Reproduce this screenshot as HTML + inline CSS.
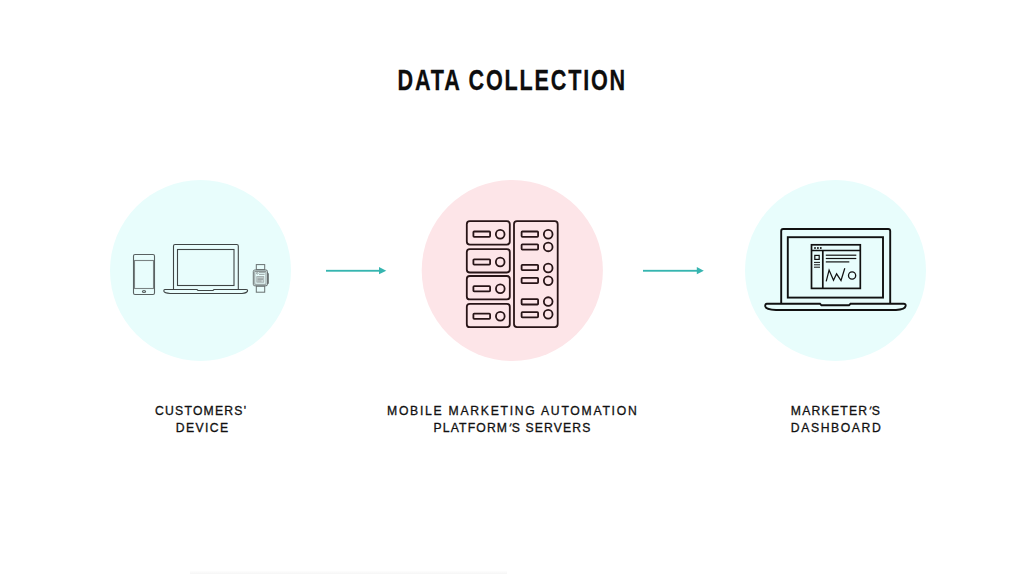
<!DOCTYPE html>
<html>
<head>
<meta charset="utf-8">
<style>
html,body{margin:0;padding:0;background:#fff;width:1024px;height:574px;overflow:hidden;position:relative;}
.t{position:absolute;font-family:"Liberation Sans",sans-serif;color:#111;white-space:nowrap;}
#title{left:0.4px;width:1024px;top:60px;color:#0d0d0d;text-align:center;font-weight:bold;font-size:30px;line-height:40px;}
#title span{display:inline-block;transform:scaleX(0.72);transform-origin:center;letter-spacing:2.5px;-webkit-text-stroke:0.3px #0d0d0d;}
.lbl{font-size:12.2px;line-height:17px;font-weight:normal;-webkit-text-stroke:0.3px #111;}
svg{position:absolute;left:0;top:0;}
</style>
</head>
<body>
<svg width="1024" height="574" viewBox="0 0 1024 574">
  <!-- circles -->
  <circle cx="200.5" cy="270.5" r="90.5" fill="#e8fdfc"/>
  <circle cx="512.3" cy="270.5" r="90.6" fill="#fde5e8"/>
  <circle cx="835.5" cy="270.5" r="90.5" fill="#e8fdfc"/>
  <!-- arrows -->
  <g fill="#36b5b0">
    <rect x="326" y="269.85" width="54" height="1.85"/>
    <polygon points="379,267 386.3,270.7 379,274.3"/>
    <rect x="643" y="269.85" width="55" height="1.85"/>
    <polygon points="696.8,267 703.8,270.7 696.8,274.3"/>
  </g>
  <!-- devices -->
  <g fill="none" stroke="#3f4545" stroke-width="1.1">
    <!-- phone -->
    <rect x="133.5" y="254.5" width="21" height="40" rx="1.5" stroke="#596161"/>
    <rect x="134.5" y="260.5" width="19" height="28" stroke="#7a8383"/>
    <ellipse cx="144" cy="291.5" rx="1.6" ry="1" stroke="#596161"/>
    <!-- laptop lid -->
    <path d="M173.5 289.5 V246 Q173.5 244.5 175 244.5 H236.8 Q238.3 244.5 238.3 246 V289.5"/>
    <rect x="177.5" y="249.5" width="56.5" height="36"/>
    <path d="M165 289.5 H197 L198 290.5 H213 L214 289.5 H246 Q248 289.5 247.5 291 Q247 293 242 293.5 H170 Q164.5 293 164 291.5 Q163.5 289.5 165 289.5 Z"/>
  </g>
  <!-- watch -->
  <g fill="none" stroke="#687171" stroke-width="1">
    <rect x="256.3" y="264.6" width="8.4" height="5"/>
    <rect x="256.3" y="286.2" width="8.4" height="6"/>
    <rect x="253.3" y="270" width="14.2" height="15.8" rx="1.5"/>
    <rect x="254.8" y="271.5" width="11.2" height="12.8" stroke="#8d9696"/>
    <line x1="268.3" y1="273.2" x2="268.3" y2="283.8" stroke-width="1.1"/>
  </g>
  <g fill="none" stroke="#8a9393" stroke-width="0.8">
    <circle cx="257.3" cy="273.2" r="0.9"/>
    <line x1="259" y1="272.6" x2="265.3" y2="272.6"/>
    <line x1="259" y1="274.4" x2="264.6" y2="274.4"/>
    <rect x="256.8" y="276.6" width="7" height="5.6" fill="#cfdcdc" stroke="#9aa4a4"/>
    <line x1="257.5" y1="278.2" x2="263" y2="278.2"/>
    <line x1="257.5" y1="279.6" x2="263" y2="279.6"/>
    <line x1="257.5" y1="281" x2="261.5" y2="281"/>
  </g>
  <!-- servers -->
  <g fill="none" stroke="#281517" stroke-width="1.8">
    <rect x="466.8" y="221.2" width="43" height="23.4" rx="3"/>
    <rect x="466.8" y="249.1" width="43" height="23.4" rx="3"/>
    <rect x="466.8" y="276.0" width="43" height="23.4" rx="3"/>
    <rect x="466.8" y="303.8" width="43" height="23.4" rx="3"/>
    <rect x="473.4" y="231.5" width="16.7" height="5.3" rx="0.8"/>
    <rect x="473.4" y="259.3" width="16.7" height="5.3" rx="0.8"/>
    <rect x="473.4" y="286.1" width="16.7" height="5.3" rx="0.8"/>
    <rect x="473.4" y="313.6" width="16.7" height="5.3" rx="0.8"/>
    <circle cx="500.2" cy="234.3" r="4.35"/>
    <circle cx="500.2" cy="262" r="4.35"/>
    <circle cx="500.3" cy="288.7" r="4.35"/>
    <circle cx="500.3" cy="316.2" r="4.35"/>
    <rect x="514" y="221.2" width="43.7" height="105.9" rx="3"/>
    <rect x="521.6" y="231.5" width="16.5" height="5.3" rx="0.8"/>
    <rect x="521.6" y="244.3" width="16.5" height="5.3" rx="0.8"/>
    <rect x="521.6" y="264.8" width="16.5" height="5.3" rx="0.8"/>
    <rect x="521.6" y="277.8" width="16.5" height="5.3" rx="0.8"/>
    <rect x="521.6" y="299.2" width="16.5" height="5.3" rx="0.8"/>
    <rect x="521.6" y="312.1" width="16.5" height="5.3" rx="0.8"/>
    <circle cx="548.2" cy="234.3" r="4.35"/>
    <circle cx="548.2" cy="246.9" r="4.35"/>
    <circle cx="548.2" cy="268" r="4.35"/>
    <circle cx="548.2" cy="280.8" r="4.35"/>
    <circle cx="548.2" cy="301.6" r="4.35"/>
    <circle cx="548.2" cy="314.3" r="4.35"/>
  </g>
  <!-- dashboard laptop -->
  <g fill="none" stroke="#111" stroke-width="1.9">
    <path d="M781.2 303.5 V231 Q781.2 229 783.2 229 H888.2 Q890.2 229 890.2 231 V303.5"/>
    <rect x="787.8" y="237.2" width="95.2" height="60.4"/>
    <path d="M767 303.8 H820 L821.5 305.3 H849 L850.5 303.8 H903.5 Q906.3 303.8 905.6 306 Q905 309.5 896 310 H776 Q766 309.5 765.3 306.5 Q764.8 303.8 767 303.8 Z"/>
    <rect x="811.5" y="244.8" width="48.8" height="43.6" stroke-width="1.7"/>
    <line x1="811.5" y1="250.6" x2="860.3" y2="250.6" stroke-width="1.5"/>
    <line x1="822.8" y1="250.6" x2="822.8" y2="288.4" stroke-width="1.7"/>
    <rect x="814.8" y="255.4" width="4.4" height="4" stroke-width="1.2"/>
    <line x1="814" y1="262.4" x2="820" y2="262.4" stroke-width="1"/>
    <line x1="814" y1="264.8" x2="820" y2="264.8" stroke-width="1"/>
    <line x1="814" y1="267.2" x2="820" y2="267.2" stroke-width="1"/>
    <line x1="825.8" y1="255.2" x2="856.3" y2="255.2" stroke-width="1.2"/>
    <line x1="825.8" y1="258.5" x2="856.3" y2="258.5" stroke-width="1.2"/>
    <line x1="825.8" y1="261.9" x2="849.3" y2="261.9" stroke-width="1.2"/>
    <polyline points="826.2,281.3 829.1,270.1 833.5,280.3 836.6,273.8 841,280.5 844.8,268.2" stroke-width="1.25"/>
    <circle cx="852.1" cy="275.5" r="3.6" stroke-width="1.3"/>
  </g>
  <g fill="#111">
    <circle cx="815" cy="248" r="0.95"/>
    <circle cx="817.9" cy="248" r="0.95"/>
    <circle cx="820.8" cy="248" r="0.95"/>
  </g>
</svg>
<div class="t" id="title"><span>DATA COLLECTION</span></div>
<div class="t lbl" style="left:155px;top:403px;letter-spacing:1.23px">CUSTOMERS'</div>
<div class="t lbl" style="left:175.8px;top:420px;letter-spacing:1.4px">DEVICE</div>
<div class="t lbl" style="left:387px;top:403px;letter-spacing:1.73px">MOBILE MARKETING AUTOMATION</div>
<div class="t lbl" style="left:433.5px;top:420px;letter-spacing:1.15px">PLATFORM<span style="display:inline-block;transform:skewX(-22deg)">'</span>S SERVERS</div>
<div class="t lbl" style="left:790.8px;top:403px;letter-spacing:1.22px">MARKETER<span style="display:inline-block;transform:skewX(-22deg)">'</span>S</div>
<div class="t lbl" style="left:790.8px;top:420px;letter-spacing:1.6px">DASHBOARD</div>
<div style="position:absolute;left:190px;top:571px;width:317px;height:3px;background:linear-gradient(#fdfdfd,#f6f6f6)"></div>
</body>
</html>
